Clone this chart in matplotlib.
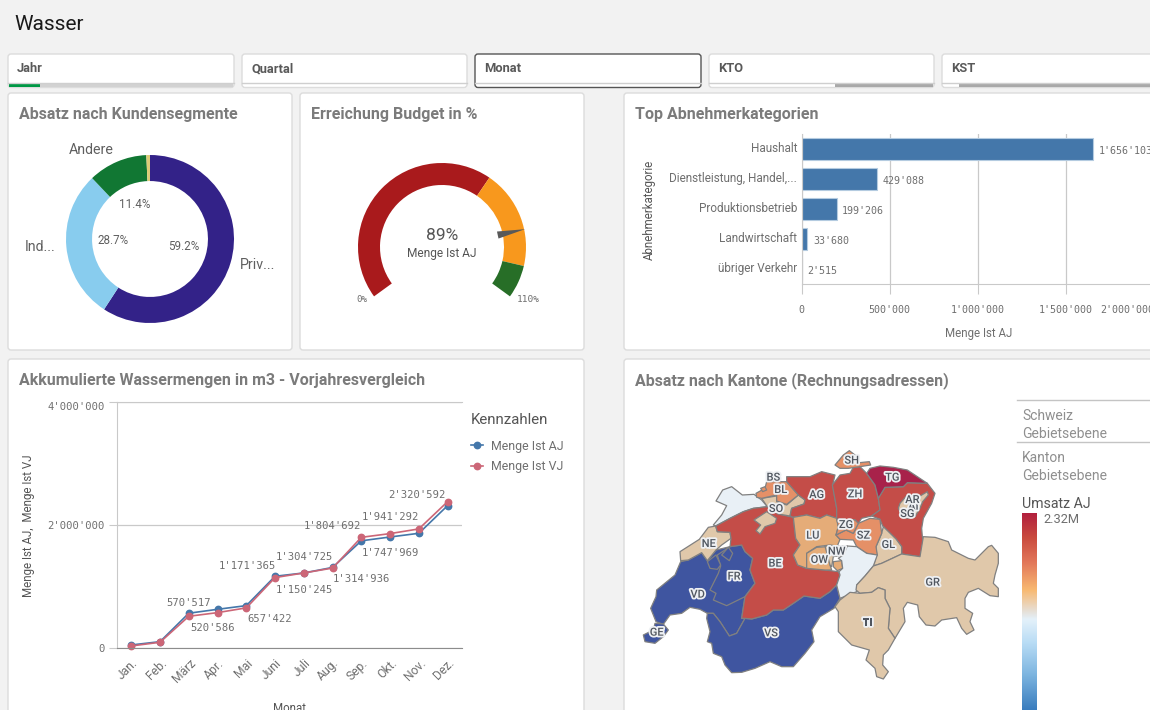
import numpy as np
import matplotlib
matplotlib.use("Agg")
import matplotlib.pyplot as plt
import matplotlib.patheffects as pe
from matplotlib.colors import LinearSegmentedColormap
from matplotlib.patches import FancyBboxPatch, Polygon, Rectangle, Wedge
from matplotlib.transforms import ScaledTranslation

plt.rcParams["font.family"] = ["Roboto", "DejaVu Sans"]

W, H = 1150, 710
MONO = "DejaVu Sans Mono"
GRID = "#c9c9c9"
TXT = "#6f6f6f"

# ---------------------------------------------------------------------
# Data
# ---------------------------------------------------------------------

segment_labels = ["Priv...", "Ind...", "Andere", ""]
segment_shares = [59.2, 28.7, 11.4, 0.7]
segment_colors = ["#332288", "#88ccee", "#117733", "#ddcc77"]

gauge_value = 89
gauge_max = 110
gauge_bands = [0, 70, 100, 110]
gauge_colors = ["#a91a1c", "#f8981d", "#276e27"]

categories = ["Haushalt", "Dienstleistung, Handel,...", "Produktionsbetrieb",
              "Landwirtschaft", "übriger Verkehr"]
menge_kat = [1656103, 429088, 199206, 33680, 2515]

months = ["Jan.", "Feb.", "März", "Apr.", "Mai", "Juni", "Juli", "Aug.",
          "Sep.", "Okt.", "Nov.", "Dez."]
menge_aj = [54000, 108000, 570517, 634000, 694000, 1171365, 1225000, 1314936,
            1747969, 1810000, 1870000, 2320592]
menge_vj = [38000, 98000, 520586, 580000, 657422, 1150245, 1225000, 1304725,
            1804692, 1865000, 1941292, 2385000]

# Canton outlines (3x screen pixels from the map corner)
JU = [(258,183),(278,150),(305,140),(337,165),(372,163),(395,180),(412,200),(370,205),
      (340,215),(300,235),(257,258),(250,255),(275,225),(290,197)]
NE = [(150,335),(208,298),(235,262),(257,258),(262,275),(300,277),(303,295),(275,315),
      (258,330),(232,362),(215,338),(175,360),(152,362)]
BE = [(257,258),(300,235),(340,215),(370,205),(412,200),(445,222),(490,232),(497,295),
      (510,315),(490,345),(503,375),(530,385),(585,390),(625,395),(630,405),(620,435),
      (600,455),(570,475),(522,468),(490,490),(460,510),(430,510),(410,525),(365,537),
      (345,535),(335,535),(345,470),(375,430),(360,390),(368,355),(345,335),(335,315),
      (300,320),(303,295),(300,277),(262,275)]
VD = [(152,365),(135,405),(80,450),(78,470),(62,505),(78,545),(100,553),(120,525),(155,520),
      (180,502),(210,508),(232,520),(250,520),(270,545),(298,588),(320,580),(345,535),
      (335,535),(345,470),(375,430),(360,390),(368,355),(345,335),(335,315),(300,320),
      (258,330),(232,362),(215,338),(175,360)]
FR = [(300,320),(335,315),(345,335),(368,355),(360,390),(375,430),(345,470),(290,497),
      (250,480),(258,460),(240,450),(265,400),(272,378),(262,345)]
FR2 = [(232,365),(258,345),(272,375),(262,388),(240,385)]
FR3 = [(275,345),(295,322),(308,340),(298,362)]
GE = [(40,585),(70,570),(75,550),(100,552),(115,570),(100,590),(75,610),(45,605)]
VS = [(232,520),(250,520),(270,545),(298,588),(320,580),(345,535),(365,537),(410,525),
      (430,510),(460,510),(490,490),(522,468),(570,475),(600,455),(620,435),(630,475),
      (612,505),(570,530),(545,570),(552,605),(525,640),(490,680),(455,680),(420,665),
      (375,685),(335,697),(305,698),(285,675),(275,650),(250,640),(245,610),(232,605),
      (240,575),(230,535)]
SO_N = [(395,175),(440,168),(440,185),(470,195),(505,165),(525,180),(522,192),(485,205),
        (480,228),(445,222),(412,200)]
SO_S = [(372,240),(410,215),(440,235),(435,250),(405,260),(390,282),(378,272),(392,255)]
BL = [(378,160),(405,145),(410,125),(430,125),(470,125),(505,165),(470,193),(440,183),
      (440,165),(395,175),(380,172)]
BS = [(392,145),(405,140),(410,150),(398,155)]
AG = [(470,110),(540,110),(575,95),(615,105),(608,135),(620,205),(620,235),(590,225),
      (570,235),(530,225),(490,232),(480,228),(485,205),(522,192),(525,180),(505,165),(470,125)]
ZH = [(607,135),(630,105),(660,100),(670,82),(690,80),(710,100),(735,135),(745,175),
      (750,210),(725,228),(695,235),(685,250),(675,240),(620,238),(620,205)]
SH = [(615,75),(640,45),(658,32),(688,55),(688,68),(718,65),(722,75),(690,80),(655,85),(630,85)]
TG = [(710,100),(720,85),(750,78),(790,82),(832,90),(892,130),(832,128),(820,140),
      (765,142),(745,175),(735,135)]
SG = [(745,175),(750,210),(725,228),(750,238),(758,258),(798,297),(815,320),(815,342),
      (870,350),(885,320),(877,290),(875,265),(880,235),(905,190),(915,160),(892,130),
      (832,128),(820,140),(765,142)]
AR = [(810,190),(832,165),(870,168),(892,155),(895,165),(878,185),(870,205),(855,230),
      (832,235),(815,225),(805,205)]
GL = [(760,260),(798,297),(815,320),(815,342),(755,370),(730,378),(740,345),(738,320),(755,280)]
SZ = [(618,285),(648,270),(670,280),(685,250),(720,235),(750,238),(755,280),(738,320),
      (742,345),(710,340),(680,320),(670,300),(630,298)]
ZG = [(620,238),(675,240),(685,250),(670,280),(648,270),(618,285),(625,260)]
LU = [(490,232),(530,225),(570,235),(590,225),(620,235),(625,260),(618,285),(630,298),
      (622,318),(600,315),(560,320),(530,340),(530,385),(503,375),(490,345),(510,315),(497,295)]
OW = [(530,340),(560,322),(590,320),(595,350),(600,375),(605,390),(585,390),(530,385)]
OW2 = [(610,365),(635,362),(638,385),(622,392),(610,380)]
NW = [(585,318),(652,318),(640,345),(610,350),(605,380),(600,375),(592,345)]
UR = [(640,345),(652,318),(680,320),(710,340),(742,345),(730,378),(705,408),(680,435),
      (680,455),(630,475),(620,435),(630,405),(627,395),(638,385),(635,362),(625,355)]
GR = [(730,378),(755,370),(815,342),(870,350),(880,290),(915,292),(955,305),(965,330),
      (1015,355),(1035,360),(1075,320),(1085,316),(1105,340),(1105,370),(1095,405),(1090,430),
      (1105,445),(1105,470),(1080,467),(1045,445),(1015,457),(1005,475),(1005,505),(1028,520),
      (1020,545),(1032,570),(1010,583),(995,565),(980,533),(935,540),(915,558),(888,555),
      (868,530),(863,495),(832,487),(820,505),(825,545),(795,595),(775,565),(780,505),
      (765,475),(765,450),(745,443),(725,457),(690,460),(678,450),(680,435),(705,408)]
TI = [(615,500),(630,480),(660,457),(690,460),(725,457),(745,443),(765,450),(765,475),
      (780,505),(775,565),(795,595),(775,630),(760,645),(758,675),(775,695),(760,717),
      (740,710),(735,685),(708,660),(718,630),(665,615),(625,575),(625,515)]

canton_labels = ["SH", "BS", "BL", "AG", "ZH", "TG", "AI", "AR", "SG", "SO", "ZG", "SZ", "LU",
                 "GL", "NE", "NW", "OW", "BE", "FR", "GR", "VD", "TI", "GE", "VS"]
canton_label_x = [665, 430, 452, 560, 675, 787, 850, 847, 832, 438, 648, 700, 548,
                  775, 236, 620, 568, 435, 312, 908, 203, 713, 80, 423]
canton_label_y = [62, 113, 150, 165, 163, 113, 200, 180, 222, 207, 255, 287, 287,
                  315, 312, 335, 360, 371, 410, 428, 464, 550, 578, 580]

filter_names = ["Jahr", "Quartal", "Monat", "KTO", "KST"]

# ---------------------------------------------------------------------
# Helpers
# ---------------------------------------------------------------------

def axes_px(fig, left, top, right, bottom):
    return fig.add_axes([left / W, 1 - bottom / H, (right - left) / W, (bottom - top) / H])


def swiss(v):
    return f"{v:,}".replace(",", "'")


def card(bg, left, top, right, bottom, edge="#dcdcdc"):
    bg.add_patch(FancyBboxPatch((left, top), right - left, bottom - top,
                                boxstyle="round,pad=0,rounding_size=3",
                                fc="white", ec=edge, lw=1))


def nudge(label, fig, dy_px):
    # move a tick label up (+) or down (-) by some pixels
    label.set_transform(label.get_transform() + ScaledTranslation(0, dy_px / 100, fig.dpi_scale_trans))


fig = plt.figure(figsize=(W / 100, H / 100), dpi=100, facecolor="#f2f2f2")

bg = fig.add_axes([0, 0, 1, 1])
bg.set_xlim(0, W)
bg.set_ylim(H, 0)
bg.axis("off")

bg.text(14, 24, "Wasser", fontsize=15, color="#1a1a1a", va="center")

# ---------------------------------------------------------------------
# Filter row
# ---------------------------------------------------------------------

filter_left = [8, 242, 475, 709, 942]
filter_right = [234, 467, 701, 934, 1165]
for i, name in enumerate(filter_names):
    l, r = filter_left[i], filter_right[i]
    card(bg, l, 54, r, 87.5, edge="#555555" if name == "Monat" else "#dcdcdc")
    bg.text(l + 9, 69, name, fontsize=9.3, fontweight="bold", color="#595959", va="center")
    bg.plot([l, r], [82.5, 82.5], color="#cfcfcf", lw=1)

bg.add_patch(Rectangle((9, 83), 224, 4, fc="#d2d2d2", ec="none"))
bg.add_patch(Rectangle((9, 83), 31, 4, fc="#009845", ec="none"))
bg.add_patch(Rectangle((835, 83), 98, 4, fc="#a9a9a9", ec="none"))
bg.add_patch(Rectangle((959, 83), 195, 4, fc="#a9a9a9", ec="none"))

# ---------------------------------------------------------------------
# Cards and titles
# ---------------------------------------------------------------------

card_boxes = [(8, 93, 292, 350), (300, 93, 584, 350), (624, 93, 1165, 350),
              (8, 359, 584, 725), (624, 359, 1165, 725)]
card_titles = ["Absatz nach Kundensegmente", "Erreichung Budget in %", "Top Abnehmerkategorien",
               "Akkumulierte Wassermengen in m3 - Vorjahresvergleich",
               "Absatz nach Kantone (Rechnungsadressen)"]
for box, title in zip(card_boxes, card_titles):
    card(bg, *box)
    bg.text(box[0] + 11, box[1] + 22, title, fontsize=11.5, fontweight="bold",
            color="#7b7b7b", va="center")

# ---------------------------------------------------------------------
# Donut
# ---------------------------------------------------------------------

ax = axes_px(fig, 66, 155, 234, 323)
ax.pie(segment_shares, colors=segment_colors, startangle=90, counterclock=False,
       radius=1, wedgeprops=dict(width=0.31, linewidth=0))
ax.set_xlim(-1, 1)
ax.set_ylim(-1, 1)

for s, x, y in zip(segment_shares[:3], [184, 113, 135], [247, 241, 204]):
    bg.text(x, y, f"{s}%", fontsize=8.4, color="#5f5f5f", ha="center", va="center")
for s, x, y in zip(segment_labels[:3], [258, 40, 91], [265, 247, 150]):
    bg.text(x, y, s, fontsize=10.2, color="#5f5f5f", ha="center", va="center")

# ---------------------------------------------------------------------
# Gauge
# ---------------------------------------------------------------------

def gauge_angle(v):
    return 216 - 252 * v / gauge_max


ax = axes_px(fig, 342, 147, 542, 347)
ax.set_xlim(-100, 100)
ax.set_ylim(-100, 100)
ax.axis("off")
for i, c in enumerate(gauge_colors):
    ax.add_patch(Wedge((0, 0), 84, gauge_angle(gauge_bands[i + 1]), gauge_angle(gauge_bands[i]),
                       width=22, fc=c, ec="none"))
a = np.radians(gauge_angle(gauge_value))
tip = 85 * np.array([np.cos(a), np.sin(a)])
base = 57 * np.array([np.cos(a), np.sin(a)])
side = 3.6 * np.array([-np.sin(a), np.cos(a)])
ax.add_patch(Polygon([tip, base + side, base - side], fc="#595959", ec="none", zorder=5))

bg.text(442, 235, f"{gauge_value}%", fontsize=12.5, color="#555555", ha="center", va="center")
bg.text(442, 253, "Menge Ist AJ", fontsize=8.6, color="#555555", ha="center", va="center")
bg.text(362, 300, "0%", fontsize=6.6, family=MONO, color=TXT, ha="center", va="center")
bg.text(528, 299, "110%", fontsize=6.8, family=MONO, color=TXT, ha="center", va="center")

# ---------------------------------------------------------------------
# Horizontal bars
# ---------------------------------------------------------------------

ax = axes_px(fig, 801.5, 134, 1154, 284)
ax.set_axisbelow(True)
y_pos = np.arange(len(categories))
bars = ax.barh(y_pos, menge_kat, height=0.71, color="#4477aa", edgecolor="#b4cbe0", linewidth=0.8)
ax.set_xlim(0, 2000000)
ax.set_ylim(len(categories) - 0.5, -0.5)
ax.set_yticks(y_pos, categories, fontsize=8.5, color=TXT)
ax.tick_params(axis="y", length=0, pad=3)
for t in ax.get_yticklabels():
    nudge(t, fig, 2)
ax.set_xticks([0, 500000, 1000000, 1500000, 2000000])
ax.set_xticklabels([swiss(v) for v in ax.get_xticks().astype(int)], family=MONO, fontsize=7.2, color=TXT)
ax.get_xticklabels()[-1].set_ha("right")
ax.tick_params(axis="x", length=7, color=GRID, pad=8)
ax.grid(axis="x", color=GRID, lw=0.9)
for side_name in ["top", "right"]:
    ax.spines[side_name].set_visible(False)
for side_name in ["left", "bottom"]:
    ax.spines[side_name].set_color(GRID)
value_labels = ax.bar_label(bars, labels=[swiss(v) for v in menge_kat], padding=4, family=MONO,
                            fontsize=7.2, color=TXT, clip_on=False)
for t in value_labels:
    t.xyann = (t.xyann[0], t.xyann[1] - 1.2)
bg.text(979, 334, "Menge Ist AJ", fontsize=8.3, color=TXT, ha="center", va="center")
bg.text(649, 210, "Abnehmerkategorie", fontsize=8.3, color="#555555", rotation=90,
        ha="center", va="center")

# ---------------------------------------------------------------------
# Cumulative lines
# ---------------------------------------------------------------------

ax = axes_px(fig, 116.9, 402.3, 462, 648.3)
ax.set_axisbelow(True)
x = np.arange(len(months))
ax.plot(x, menge_aj, color="#4477aa", lw=1.2, marker="o", ms=4.6, label="Menge Ist AJ", clip_on=False)
ax.plot(x, menge_vj, color="#cc6677", lw=1.2, marker="o", ms=4.6, label="Menge Ist VJ", clip_on=False)
ax.set_xlim(-0.5, 11.5)
ax.set_ylim(0, 4000000)
ax.set_yticks([0, 2000000, 4000000], [swiss(v) for v in [0, 2000000, 4000000]],
              family=MONO, fontsize=7.6, color=TXT)
ax.get_yticklabels()[-1].set_va("top")
nudge(ax.get_yticklabels()[-1], fig, -2)
ax.tick_params(axis="y", length=6, color=GRID, pad=3)
ax.set_xticks(x, months, rotation=45, ha="right", rotation_mode="anchor", fontsize=8.7, color=TXT)
ax.tick_params(axis="x", length=0, pad=6)
ax.grid(axis="y", color=GRID, lw=0.9)
ax.spines["top"].set_color(GRID)
ax.spines["right"].set_visible(False)
ax.spines["left"].set_color(GRID)
ax.spines["bottom"].set_color("#8c8c8c")

aj_labels = {2: (0, 10), 5: (-28, 10.5), 7: (29, -12), 8: (29, -12), 11: (-31, 11)}
vj_labels = {2: (24, -12), 4: (23.4, -11.4), 5: (29, -12), 7: (-28.5, 11.5), 8: (-28.5, 11), 10: (-28.6, 11.6)}
for series, offsets in [(menge_aj, aj_labels), (menge_vj, vj_labels)]:
    for i, (dx, dy) in offsets.items():
        ax.annotate(swiss(series[i]), (i, series[i]), xytext=(dx * 0.72, dy * 0.72),
                    textcoords="offset points", family=MONO, fontsize=7.6, color=TXT,
                    ha="center", va="center")

bg.text(290, 709, "Monat", fontsize=8.3, color="#555555", ha="center", va="center")
bg.text(29, 526, "Menge Ist AJ,  Menge Ist VJ", fontsize=8.3, color="#555555", rotation=90,
        ha="center", va="center")

leg = ax.legend(title="Kennzahlen", loc="upper left", bbox_to_anchor=(1.0, 0.99), frameon=False,
                alignment="left", fontsize=8.9, labelcolor=TXT, handlelength=1.0,
                handletextpad=0.65, labelspacing=0.62, borderaxespad=0.3, borderpad=0.4)
leg.get_title().set_fontsize(10.8)
leg.get_title().set_color("#555555")
leg._legend_box.sep += 3.4

# ---------------------------------------------------------------------
# Map
# ---------------------------------------------------------------------

BLUE = "#3f55a0"
BEIGE = "#e0c8aa"
PALE = "#e9f0f6"
RED = "#c44d48"
CORAL = "#e59067"
SAND = "#e5ac78"
DEEP = "#a8224a"

canton_shapes = [
    (VD, BLUE), (FR, BLUE), (FR2, BLUE), (FR3, BLUE), (GE, BLUE), (VS, BLUE),
    (JU, PALE), (NE, BEIGE), (BE, RED), (SO_N, BEIGE), (SO_S, BEIGE), (BL, CORAL), (BS, CORAL),
    (AG, RED), (ZH, RED), (SH, CORAL), (SG, RED), (TG, DEEP), (AR, BEIGE), (GL, BEIGE),
    (LU, SAND), (SZ, CORAL), (ZG, CORAL), (OW, SAND), (OW2, SAND), (NW, BEIGE), (UR, PALE),
    (GR, BEIGE), (TI, BEIGE),
]

ax = axes_px(fig, 630, 440, 1010, 710)
ax.set_xlim(0, 1140)
ax.set_ylim(810, 0)
ax.axis("off")
for shape, colour in canton_shapes:
    ax.add_patch(Polygon(shape, closed=True, fc=colour, ec="#808080", lw=0.9, joinstyle="round"))
for name, lx, ly in zip(canton_labels, canton_label_x, canton_label_y):
    ax.text(lx, ly, name, fontsize=8, fontweight="medium", color="#50565f", ha="center", va="center",
            path_effects=[pe.withStroke(linewidth=2.6, foreground="#eef0f3")])

# ---------------------------------------------------------------------
# Map legend
# ---------------------------------------------------------------------

for y in [400, 442]:
    bg.plot([1017, 1150], [y, y], color="#c4c4c4", lw=1)
legend_rows = ["Schweiz", "Gebietsebene", "Kanton", "Gebietsebene"]
for s, y in zip(legend_rows, [416, 434, 458, 476]):
    bg.text(1022, y, s, fontsize=10, color="#8f8f8f", va="center")
bg.text(1022, 503.5, "Umsatz AJ", fontsize=10.2, color="#555555", va="center")
bg.text(1043, 519.5, "2.32M", fontsize=9.3, color=TXT, va="center")

ramp_stops = [0, 0.12, 0.25, 0.39, 0.5, 0.54, 0.66, 0.82, 1]
ramp_colors = ["#b2203f", "#c94a3e", "#e2775a", "#f8b971", "#e6e0d8", "#e4f1fa",
               "#b8dcf5", "#7db5e0", "#3a7dbe"]
ramp = LinearSegmentedColormap.from_list("umsatz", list(zip(ramp_stops, ramp_colors)))
ax = axes_px(fig, 1022, 513, 1037, 710)
ax.imshow(np.linspace(0, 1, 256)[:, None], cmap=ramp, aspect="auto")
ax.axis("off")

fig.savefig("out.png", dpi=100, facecolor=fig.get_facecolor())
